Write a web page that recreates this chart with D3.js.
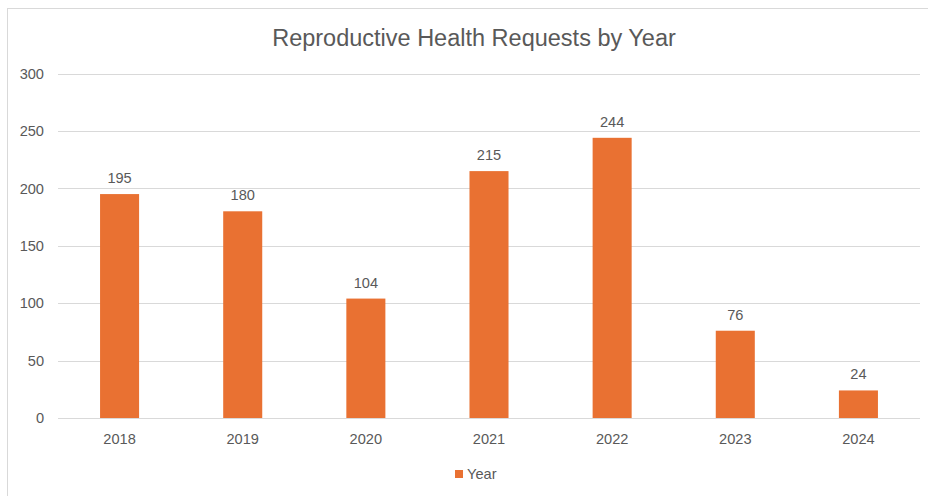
<!DOCTYPE html>
<html>
<head>
<meta charset="utf-8">
<script src="https://cdn.jsdelivr.net/npm/d3@7"></script>
<style>
  body { margin: 0; background: #fff; }
  svg { display: block; font-family: "Liberation Sans", Arial, sans-serif; }
</style>
</head>
<body>
<svg id="chart" width="928" height="496"></svg>
<script>
// chart data
let years = ["2018", "2019", "2020", "2021", "2022", "2023", "2024"];
let requests = [195, 180, 104, 215, 244, 76, 24];
let yTicks = [0, 50, 100, 150, 200, 250, 300];
let title = "Reproductive Health Requests by Year";
let seriesName = "Year";

const bar_color = "#E97132";
const text_color = "#595959";
const grid_color = "#d9d9d9";
const label_size = "14.6px";

const svg = d3.select("svg#chart");

// outer frame (only left/top visible in the picture)
svg.append("rect")
  .attr("x", 7.5)
  .attr("y", 8.5)
  .attr("width", 940)
  .attr("height", 520)
  .attr("fill", "none")
  .attr("stroke", grid_color)
  .attr("stroke-width", 1);

const margin = { left: 58, right: 8, top: 73.5, bottom: 78 };
const width = 928 - margin.left - margin.right;   // 862
const plot_bottom = 418;

let x = d3.scaleBand()
  .domain(years)
  .range([margin.left, margin.left + width])
  .paddingInner(0.683)
  .paddingOuter(0.3415);

let y = d3.scaleLinear()
  .domain([0, 300])
  .range([plot_bottom, margin.top]);

// gridlines
svg.append("g")
  .selectAll("line")
  .data(yTicks)
  .join("line")
  .attr("x1", margin.left)
  .attr("x2", margin.left + width)
  .attr("y1", d => Math.round(y(d)) + 0.5)
  .attr("y2", d => Math.round(y(d)) + 0.5)
  .attr("stroke", grid_color)
  .attr("stroke-width", 1);

// y axis labels
let yAxis = d3.axisLeft(y).tickValues(yTicks).tickSize(0).tickPadding(14);
svg.append("g")
  .attr("transform", "translate(" + margin.left + ",0)")
  .call(yAxis)
  .call(g => g.select(".domain").remove())
  .selectAll("text")
  .attr("fill", text_color)
  .attr("font-size", label_size);

// bars
svg.append("g")
  .selectAll("rect")
  .data(years)
  .join("rect")
  .attr("x", d => x(d))
  .attr("y", (d, i) => y(requests[i]))
  .attr("width", x.bandwidth())
  .attr("height", (d, i) => plot_bottom - y(requests[i]))
  .attr("fill", bar_color);

// data labels
svg.append("g")
  .selectAll("text")
  .data(years)
  .join("text")
  .attr("x", d => x(d) + x.bandwidth() / 2)
  .attr("y", (d, i) => y(requests[i]) - 11)
  .attr("text-anchor", "middle")
  .attr("fill", text_color)
  .attr("font-size", label_size)
  .text((d, i) => requests[i]);

// x axis labels
svg.append("g")
  .selectAll("text")
  .data(years)
  .join("text")
  .attr("x", d => x(d) + x.bandwidth() / 2)
  .attr("y", plot_bottom + 26)
  .attr("text-anchor", "middle")
  .attr("fill", text_color)
  .attr("font-size", label_size)
  .text(d => d);

// title
svg.append("text")
  .attr("x", 474)
  .attr("y", 46)
  .attr("text-anchor", "middle")
  .attr("fill", text_color)
  .attr("font-size", "23.5px")
  .text(title);

// legend
svg.append("rect")
  .attr("x", 455)
  .attr("y", 470)
  .attr("width", 8)
  .attr("height", 8)
  .attr("fill", bar_color);
svg.append("text")
  .attr("x", 467)
  .attr("y", 479)
  .attr("fill", text_color)
  .attr("font-size", label_size)
  .text(seriesName);
</script>
</body>
</html>
